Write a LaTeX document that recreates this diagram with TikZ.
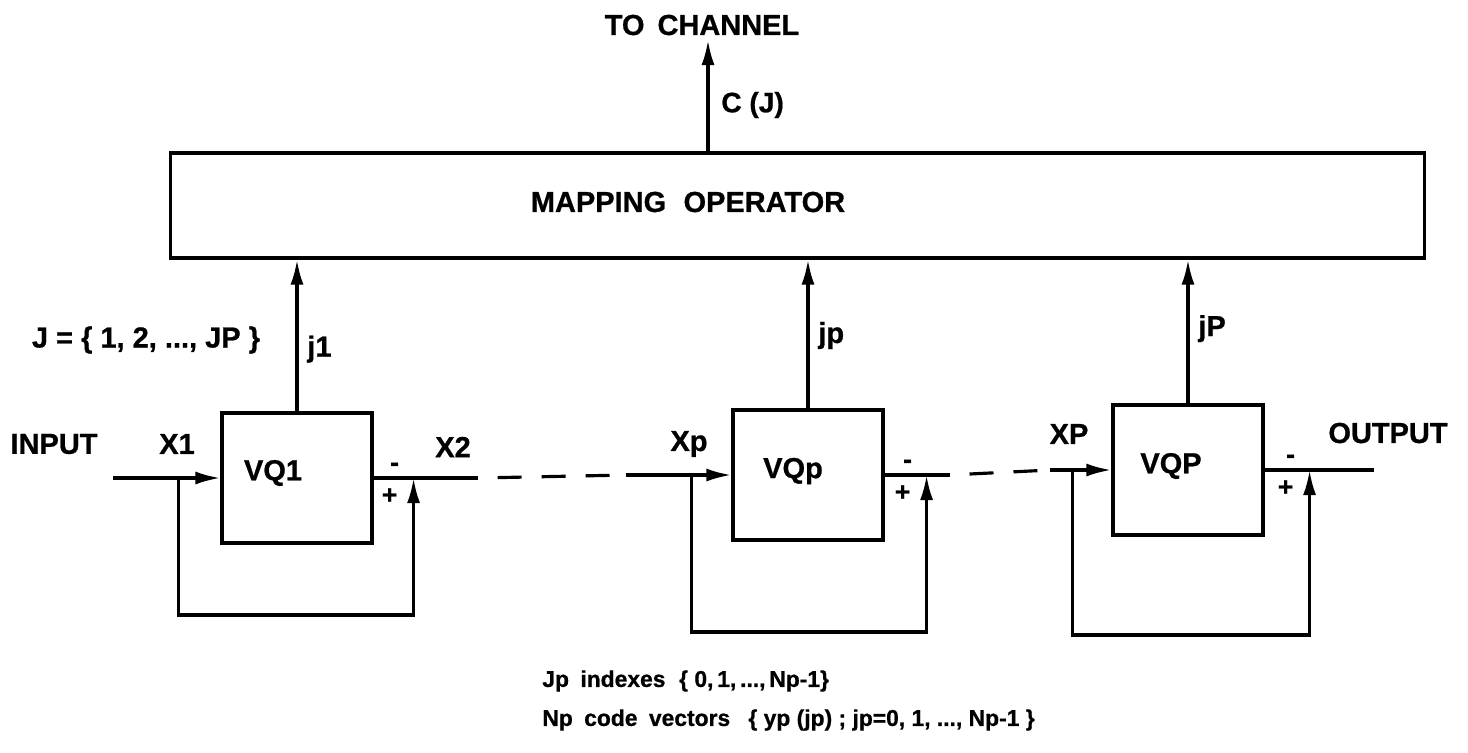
\documentclass[tikz,border=0pt]{standalone}
\usepackage{fontspec}
\setmainfont{Liberation Sans}[BoldFeatures={FakeBold=0.8}]
\usetikzlibrary{arrows.meta,positioning}
\tikzset{
  ln/.style={line width=1.8pt},
  ar/.style={ln,-{Latex[length=5mm,width=2.6mm]}},
  dsh/.style={ln,dash pattern=on 0.48cm off 0.4cm,dash phase=0.48cm},
  vq/.style={draw,line width=1.8pt,minimum width=3cm,minimum height=2.6cm,inner sep=0pt},
  lab/.style={font=\bfseries\fontsize{16.5}{19}\selectfont,inner sep=0pt},
  sml/.style={font=\bfseries\fontsize{13}{16}\selectfont,inner sep=0pt,anchor=west},
  sgn/.style={font=\bfseries\fontsize{15}{16}\selectfont,inner sep=0pt}
}

\begin{document}
\begin{tikzpicture}[x=0.02cm,y=-0.02cm]
\useasboundingbox (0,0) rectangle (1468,752);
% mapping operator and channel
\node[draw,line width=1.8pt,minimum width=25.1cm,minimum height=2.1cm] (map) at (797.5,205.5) {};
\node[lab] (mapl) at (688,202) {MAPPING\hspace{0.6em}OPERATOR};
\node[lab] (chan) at (702,25) {TO\hspace{0.45em}CHANNEL};
\coordinate (ch) at (708,40);
\draw[ar] (ch |- map.north) -- (ch);
\node[lab,font=\bfseries\fontsize{16}{19}\selectfont,anchor=west] (cj) at (721,105) {C (J)};
% quantizer stages
\node[vq] (q1) at (297,478) {};
\node[vq] (qp) at (808,475) {};
\node[vq] (qP) at (1188,470) {};
\node[lab] (q1l) at (273,473) {VQ1};
\node[lab] (qpl) at (793,471) {VQp};
\node[lab] (qPl) at (1171,466) {VQP};
\foreach \q/\t/\p in {q1/j1/0.41,qp/jp/0.49,qP/jP/0.52}{
  \draw[ar] (\q.north) -- (\q.north |- map.south) node[pos=\p,right=5pt,lab]{\t};
}
\foreach \q/\di/\db/\ds/\do/\dd in {q1/107/42/40/104/137,qp/105/40/42/65/157,qP/61/39/45/109/165}{
  \coordinate (\q-in) at ([xshift=-\di*0.02cm]\q.west);
  \coordinate (\q-br) at ([xshift=-\db*0.02cm]\q.west);
  \coordinate (\q-sum) at ([xshift=\ds*0.02cm]\q.east);
  \coordinate (\q-out) at ([xshift=\do*0.02cm]\q.east);
  \draw[ar] (\q-in) -- (\q.west);
  \draw[ln] (\q.east) -- (\q-out);
  \draw[ar] (\q-br) -- ++(0,\dd) -| (\q-sum);
  \node[sgn] at ([xshift=-0.38cm,yshift=0.22cm]\q-sum) {-};
  \node[sgn] at ([xshift=-0.48cm,yshift=-0.36cm]\q-sum) {+};
}
\draw[dsh] (q1-out) -- (qp-in);
\draw[dsh] (qp-out) -- (qP-in);
% signal labels
\node[lab] (inp) at (54,444) {INPUT};
\node[lab] (x1) at (177,444) {X1};
\node[lab] (x2) at (453,447) {X2};
\node[lab] (xp) at (689,444) {Xp};
\node[lab] (xP) at (1069,434) {XP};
\node[lab] (outp) at (1388,433) {OUTPUT};
\node[lab] (jset) at (146,340) {J = \{ 1, 2, ..., JP \}};
\node[sml] (idx) at (542,681) {Jp\hspace{0.5em}indexes\hspace{0.6em}\{ 0,\,1,\,...,\,Np-1\}};
\node[sml] (cvec) at (542,720) {Np\hspace{0.5em}code\hspace{0.5em}vectors\hspace{0.8em}\{ yp (jp) ; jp=0, 1, ..., Np-1 \}};
\end{tikzpicture}
\end{document}
